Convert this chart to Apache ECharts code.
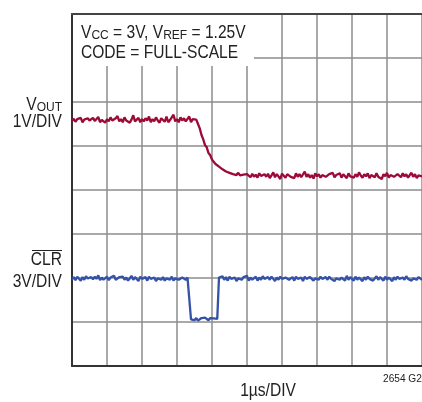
<!DOCTYPE html>
<html>
<head>
<meta charset="utf-8">
<script src="https://cdn.jsdelivr.net/npm/echarts@6.0.0/dist/echarts.min.js"></script>
<style>
html,body{margin:0;padding:0;background:#fff;}
#chart{width:422px;height:402px;}
</style>
</head>
<body>
<div id="chart"></div>
<script>
// Time base: 1 µs/DIV, 10 divisions, one sample every 0.05 µs
const timeRangeUs = [0, 10];
const sampleStepUs = 0.05;
// Vertical scale in divisions (0 = bottom graticule line, 8 = top)
const divRange = [0, 8];

// VOUT trace (1V/DIV), in divisions
const voutDiv = [
  5.57,5.62,5.55,5.61,5.58,5.64,5.54,5.60,5.56,5.63,5.58,5.55,5.64,5.57,5.61,5.66,5.54,5.59,5.63,5.53,
  5.61,5.56,5.65,5.58,5.54,5.63,5.68,5.56,5.61,5.54,5.65,5.58,5.62,5.53,5.60,5.70,5.56,5.59,5.64,5.54,
  5.61,5.56,5.63,5.58,5.67,5.54,5.61,5.56,5.65,5.58,5.53,5.63,5.60,5.55,5.67,5.54,5.59,5.63,5.71,5.56,
  5.61,5.54,5.65,5.58,5.63,5.56,5.60,5.67,5.54,5.61,5.58,5.60,
  5.50,5.40,5.25,5.15,5.02,4.97,4.84,4.79,4.69,4.68,4.59,4.58,4.53,4.53,4.47,4.49,4.42,4.45,4.39,4.42,
  4.36,4.40,4.34,4.39,4.33,4.37,4.35,4.31,4.36,
  4.33,4.29,4.37,4.30,4.35,4.28,4.38,4.32,4.29,4.36,
  4.30,4.37,4.27,4.33,4.40,4.29,4.36,4.31,4.25,4.37,
  4.33,4.28,4.36,4.39,4.30,4.34,4.27,4.38,4.30,4.36,
  4.29,4.33,4.42,4.30,4.36,4.28,4.34,4.26,4.38,4.31,
  4.36,4.28,4.34,4.38,4.30,4.27,4.36,4.33,4.39,4.29,
  4.34,4.30,4.38,4.28,4.36,4.33,4.27,4.38,4.31,4.34,
  4.28,4.36,4.30,4.40,4.33,4.28,4.36,4.31,4.38,4.27,
  4.34,4.36,4.29,4.38,4.30,4.34,4.25,4.36,4.31,4.39,
  4.28,4.34,4.38,4.30,4.27,4.36,4.33,4.29,4.38,4.31,
  4.36,4.28,4.34,4.39,4.30,4.36,4.27,4.33,4.37,4.31
];

// CLR trace (3V/DIV), in divisions
const clrDiv = [
  1.97,2.02,1.95,2.03,1.99,1.94,2.02,1.96,2.04,1.99,
  1.95,2.02,1.97,2.03,1.98,2.06,1.95,2.01,1.96,1.99,
  2.03,1.95,2.01,1.98,2.05,1.96,1.93,2.02,1.98,2.03,
  1.96,2.01,1.94,1.99,2.05,1.96,2.02,1.98,1.93,2.03,
  1.98,1.96,2.02,1.94,2.03,1.98,1.96,2.01,1.93,1.99,
  2.03,1.96,2.02,1.94,1.99,2.01,1.96,2.03,1.94,1.99,
  2.02,1.96,1.93,2.01,1.98,1.96,2.01,1.99,
  1.06,1.10,1.04,1.09,1.03,1.07,1.09,1.05,1.10,1.06,1.04,1.09,1.05,1.08,1.04,1.07,
  2.01,1.98,2.04,1.96,2.02,1.94,2.03,1.98,1.96,2.01,
  1.93,1.99,2.03,1.96,2.02,1.98,2.05,1.94,2.01,1.96,
  1.99,2.03,1.94,2.01,1.96,2.04,1.98,1.94,2.02,1.96,
  2.03,1.98,1.93,2.01,1.96,2.03,1.98,1.94,2.01,2.05,
  1.96,1.99,2.02,1.94,2.03,1.98,1.96,2.01,1.93,2.03,
  1.98,1.96,2.02,2.04,1.94,1.99,2.01,1.96,2.03,1.98,
  1.94,2.02,1.96,2.03,1.98,2.01,1.93,1.99,2.03,1.96,
  2.01,1.98,1.94,2.05,1.96,2.02,1.98,1.94,2.03,1.96,
  2.01,1.98,1.93,2.02,1.96,2.03,1.98,2.01,1.94,1.99,
  2.04,1.96,2.02,1.98,1.94,2.03,1.96,2.01,1.98,1.93,
  2.02,1.96,2.03,1.98,1.94,2.01,1.96,2.04,1.98,2.01,
  1.94,1.99,2.03,1.96,2.02,1.98,1.96
];

// Texts
const conditionsLine1 = '{m|V}{s|CC}{m| = 3V, V}{s|REF}{m| = 1.25V}';
const conditionsLine2 = 'CODE = FULL-SCALE';
const voutLabel = '{m|V}{s|OUT}';
const voutScale = '1V/DIV';
const clrLabel = 'CLR';
const clrScale = '3V/DIV';
const timeScale = '1µs/DIV';
const figureId = '2654 G28';

const FONT = "'Liberation Sans',Arial,sans-serif";
const TXT = '#222';
const SX = 0.89;

const toPairs = arr => arr.map((v, i) => [+(i * sampleStepUs).toFixed(2), v]);

const chart = echarts.init(document.getElementById('chart'), null, {renderer: 'canvas'});
const gridColor = '#8c8c8c';
const borderColor = '#333';

const richMain = {
  m: {fontFamily: FONT, fontSize: 17.5, fill: TXT, color: TXT, lineHeight: 20, verticalAlign: 'bottom'},
  s: {fontFamily: FONT, fontSize: 13.5, fill: TXT, color: TXT, lineHeight: 11, verticalAlign: 'bottom'}
};
const plain = (text, align) => ({text, font: '17.5px ' + FONT, fill: TXT, align: align, verticalAlign: 'middle'});

chart.setOption({
  animation: false,
  backgroundColor: '#fff',
  grid: {left: 72, top: 14, width: 352, height: 352, containLabel: false},
  xAxis: [
    {
      type: 'value', min: timeRangeUs[0], max: timeRangeUs[1], interval: 1,
      axisLine: {show: true, onZero: false, lineStyle: {color: borderColor, width: 2}},
      axisTick: {show: false}, axisLabel: {show: false},
      splitLine: {show: true, lineStyle: {color: gridColor, width: 1.5}}
    },
    {
      type: 'value', position: 'top', min: timeRangeUs[0], max: timeRangeUs[1], interval: 1,
      axisLine: {show: true, onZero: false, lineStyle: {color: '#444', width: 2}},
      axisTick: {show: false}, axisLabel: {show: false}, splitLine: {show: false}
    }
  ],
  yAxis: {
    type: 'value', min: divRange[0], max: divRange[1], interval: 1,
    axisLine: {show: true, onZero: false, lineStyle: {color: borderColor, width: 2}},
    axisTick: {show: false}, axisLabel: {show: false},
    splitLine: {show: true, lineStyle: {color: gridColor, width: 1.5}}
  },
  series: [
    {
      name: 'VOUT', type: 'line', data: toPairs(voutDiv), showSymbol: false, symbol: 'none',
      lineStyle: {color: '#9c0a37', width: 2.3}, z: 3
    },
    {
      name: 'CLR', type: 'line', data: toPairs(clrDiv), showSymbol: false, symbol: 'none',
      lineStyle: {color: '#3452a8', width: 2.3}, z: 3
    }
  ],
  graphic: [
    {type: 'rect', z: 10, shape: {x: 73, y: 15, width: 181, height: 51}, style: {fill: '#fff'}},
    {type: 'text', z: 11, x: 81, y: 22, scaleX: SX, style: {text: conditionsLine1, rich: richMain}},
    {type: 'text', z: 11, x: 81, y: 53, scaleX: SX, style: plain(conditionsLine2, 'left')},
    {type: 'text', z: 11, x: 62, y: 94, scaleX: SX, style: {text: voutLabel, rich: richMain, align: 'right'}},
    {type: 'text', z: 11, x: 62, y: 122, scaleX: SX, style: plain(voutScale, 'right')},
    {type: 'text', z: 11, x: 62, y: 260, scaleX: SX, style: plain(clrLabel, 'right')},
    {type: 'line', z: 11, shape: {x1: 32, y1: 250.5, x2: 62, y2: 250.5}, style: {stroke: TXT, lineWidth: 1}},
    {type: 'text', z: 11, x: 62, y: 282, scaleX: SX, style: plain(clrScale, 'right')},
    {type: 'text', z: 11, x: 268, y: 391, scaleX: SX, style: plain(timeScale, 'center')},
    {type: 'text', z: 11, x: 383, y: 379, scaleX: 0.92, style: {text: figureId, font: '11px ' + FONT, fill: TXT, align: 'left', verticalAlign: 'middle'}}
  ]
});
</script>
</body>
</html>
